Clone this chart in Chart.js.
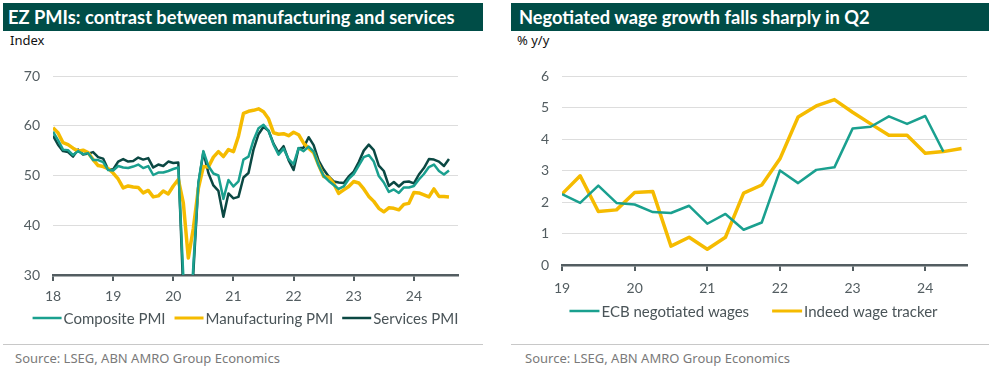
<!DOCTYPE html>
<html>
<head>
<meta charset="utf-8">
<script src="https://cdn.jsdelivr.net/npm/chart.js@4.4.1/dist/chart.umd.min.js"></script>
<style>
  body { margin: 0; width: 998px; height: 368px; background: #fff; position: relative; overflow: hidden; }
  .title-bar { position: absolute; top: 3px; height: 28px; background: #004d47; color: #fff;
    font: bold 18.3px Lato, sans-serif; line-height: 29px; box-sizing: border-box; white-space: nowrap; }
  .unit { position: absolute; top: 31px; font: 13px "Noto Sans", sans-serif; color: #111; }
  .rule { position: absolute; top: 344px; height: 1px; background: #c8c8c8; }
  .source { position: absolute; top: 349px; font: 13px "Noto Sans", sans-serif; color: #7a7a7a; }
  canvas { position: absolute; top: 50px; }
</style>
</head>
<body>
<div class="title-bar" style="left:3px;width:480px;padding-left:5px">EZ PMIs: contrast between manufacturing and services</div>
<div class="unit" style="left:10px">Index</div>
<canvas id="pmi-chart" width="490" height="290" style="left:0"></canvas>
<div class="rule" style="left:3px;width:480px"></div>
<div class="source" style="left:15px">Source: LSEG, ABN AMRO Group Economics</div>

<div class="title-bar" style="left:511px;width:478px;padding-left:8px">Negotiated wage growth falls sharply in Q2</div>
<div class="unit" style="left:517px">% y/y</div>
<canvas id="wage-chart" width="490" height="290" style="left:500px"></canvas>
<div class="rule" style="left:511px;width:478px"></div>
<div class="source" style="left:525px">Source: LSEG, ABN AMRO Group Economics</div>

<script>
// --- PMI data: monthly, Jan 2018 to Aug 2024 ---
const pmiYearLabels = ["18", "19", "20", "21", "22", "23", "24"];
const compositePMI = [
  58.8, 57.1, 55.2, 55.1, 54.1, 54.9, 54.3, 54.5, 53.1, 53.1, 52.7, 51.1,
  51.0, 51.9, 51.6, 51.5, 51.8, 52.2, 51.5, 51.9, 50.1, 50.6, 50.6, 50.9,
  51.3, 51.6, 29.7, 13.6, 31.9, 48.5, 54.9, 51.9, 50.4, 50.0, 45.3, 49.1,
  47.8, 48.8, 53.2, 53.8, 57.1, 59.5, 60.2, 59.0, 56.2, 54.2, 55.4, 53.3,
  52.3, 55.5, 54.9, 55.8, 54.8, 52.0, 49.9, 48.9, 48.1, 47.3, 47.8, 49.3,
  50.3, 52.0, 53.7, 54.1, 52.8, 49.9, 48.6, 46.7, 47.2, 46.5, 47.6, 47.6,
  47.9, 49.2, 50.3, 51.7, 52.2, 50.9, 50.2, 51.0
];
const manufacturingPMI = [
  59.6, 58.6, 56.6, 56.2, 55.5, 54.9, 55.1, 54.6, 53.2, 52.0, 51.8, 51.4,
  50.5, 49.3, 47.5, 47.9, 47.7, 47.6, 46.5, 47.0, 45.7, 45.9, 46.9, 46.3,
  47.9, 49.2, 44.5, 33.4, 39.4, 47.4, 51.8, 51.7, 53.7, 54.8, 53.8, 55.2,
  54.8, 57.9, 62.5, 62.9, 63.1, 63.4, 62.8, 61.4, 58.6, 58.3, 58.4, 58.0,
  58.7, 58.2, 56.5, 55.5, 54.6, 52.1, 49.8, 49.6, 48.4, 46.4, 47.1, 47.8,
  48.8, 48.5, 47.3, 45.8, 44.8, 43.4, 42.7, 43.5, 43.4, 43.1, 44.2, 44.4,
  46.6, 46.5, 46.1, 45.7, 47.3, 45.8, 45.8, 45.7
];
const servicesPMI = [
  58.0, 56.2, 54.9, 54.7, 53.8, 55.2, 54.2, 54.4, 54.7, 53.7, 53.4, 51.2,
  51.2, 52.8, 53.3, 52.8, 52.9, 53.6, 53.2, 53.5, 51.6, 52.2, 51.9, 52.8,
  52.5, 52.6, 26.4, 12.0, 30.5, 48.3, 54.7, 50.5, 48.0, 46.9, 41.7, 46.4,
  45.4, 45.7, 49.6, 50.5, 55.2, 58.3, 59.8, 59.0, 56.4, 54.6, 55.9, 53.1,
  51.1, 55.5, 55.6, 57.7, 56.1, 53.0, 51.2, 49.8, 48.8, 48.6, 48.5, 49.8,
  50.8, 52.7, 55.0, 56.2, 55.1, 52.0, 50.9, 47.9, 48.7, 47.8, 48.7, 48.8,
  48.4, 50.2, 51.5, 53.3, 53.2, 52.8, 51.9, 53.3
];

// --- Wage data: quarterly, 2019 Q1 onwards ---
const wageYearLabels = ["19", "20", "21", "22", "23", "24"];
const ecbNegotiatedWages = [
  2.25, 1.97, 2.52, 1.97, 1.92, 1.68, 1.65, 1.88, 1.31, 1.62, 1.12,
  1.35, 3.00, 2.60, 3.02, 3.10, 4.33, 4.39, 4.72, 4.48, 4.73, 3.60
];
const indeedWageTracker = [
  2.25, 2.83, 1.70, 1.75, 2.30, 2.33, 0.60, 0.88, 0.50, 0.88, 2.28, 2.54,
  3.37, 4.70, 5.05, 5.25, 4.85, 4.48, 4.12, 4.12, 3.55, 3.60, 3.70
];

const TEAL = "#1aa08f";
const YELLOW = "#f5bb00";
const DARK = "#0b4843";
const AXIS = "#535d61";
const TICK_FONT = { family: "Lato", size: 14 };

// x = period index (months or quarters), y = value
function toPoints(values) {
  return values.map((v, i) => ({ x: i, y: v }));
}

function makeLine(label, values, color, width) {
  return {
    label, data: toPoints(values),
    borderColor: color, backgroundColor: color, borderWidth: width,
    pointRadius: 0, tension: 0, borderJoinStyle: "round", borderCapStyle: "butt"
  };
}

// legend with short line samples sitting tight against their text
const lineLegend = {
  id: "lineLegend",
  afterDraw(chart, args, opts) {
    const ctx = chart.ctx;
    ctx.save();
    ctx.font = "15px Lato";
    ctx.textBaseline = "middle";
    const items = chart.data.datasets.map(ds => ({ ds, w: ctx.measureText(ds.label).width }));
    const total = items.reduce((s, it) => s + opts.sample + opts.textGap + it.w, 0) + opts.itemGap * (items.length - 1);
    let x = opts.centerX - total / 2;
    items.forEach(({ ds, w }) => {
      ctx.strokeStyle = ds.borderColor;
      ctx.lineWidth = Math.min(ds.borderWidth, 3);
      ctx.beginPath();
      ctx.moveTo(x, opts.y);
      ctx.lineTo(x + opts.sample, opts.y);
      ctx.stroke();
      x += opts.sample + opts.textGap;
      ctx.fillStyle = "#4a5458";
      ctx.fillText(ds.label, x, opts.y + 1);
      x += w + opts.itemGap;
    });
    ctx.restore();
  }
};

function xScale(max, step, labels, height, pad) {
  return {
    type: "linear", min: 0, max: max,
    afterBuildTicks: (axis) => { axis.ticks = labels.map((_, i) => ({ value: i * step })); },
    afterFit: (axis) => { axis.height = height; },
    ticks: { callback: (value) => labels[Math.round(value / step)], color: AXIS, font: TICK_FONT, padding: pad, maxRotation: 0 },
    grid: { drawOnChartArea: false, drawTicks: true, tickLength: 6, color: AXIS, lineWidth: 2 },
    border: { display: true, color: AXIS, width: 2.5 }
  };
}

function yScale(min, max, step, width) {
  return {
    min, max,
    afterFit: (axis) => { axis.width = width; },
    ticks: { stepSize: step, color: AXIS, font: TICK_FONT, padding: 13 },
    grid: { color: "#dddddd", drawTicks: false, lineWidth: 1 },
    border: { display: false }
  };
}

new Chart(document.getElementById("pmi-chart"), {
  type: "line",
  data: {
    datasets: [
      makeLine("Composite PMI", compositePMI, TEAL, 2.5),
      makeLine("Manufacturing PMI", manufacturingPMI, YELLOW, 3.5),
      makeLine("Services PMI", servicesPMI, DARK, 2.5)
    ]
  },
  plugins: [lineLegend],
  options: {
    responsive: false, animation: false,
    layout: { padding: { left: 22, right: 32, top: 26, bottom: 35 } },
    plugins: {
      legend: { display: false }, tooltip: { enabled: false },
      lineLegend: { centerX: 245.5, y: 268, sample: 29, textGap: 2, itemGap: 9 }
    },
    scales: {
      x: xScale(80.8, 12, pmiYearLabels, 30, 7),
      y: yScale(30, 70, 10, 31)
    }
  }
});

new Chart(document.getElementById("wage-chart"), {
  type: "line",
  data: {
    datasets: [
      makeLine("ECB negotiated wages", ecbNegotiatedWages, TEAL, 2.5),
      makeLine("Indeed wage tracker", indeedWageTracker, YELLOW, 3.5)
    ]
  },
  plugins: [lineLegend],
  options: {
    responsive: false, animation: false,
    layout: { padding: { left: 41, right: 23, top: 26, bottom: 45 } },
    plugins: {
      legend: { display: false }, tooltip: { enabled: false },
      lineLegend: { centerX: 253.5, y: 261, sample: 30, textGap: 2, itemGap: 23 }
    },
    scales: {
      x: xScale(22.3, 4, wageYearLabels, 30, 9),
      y: yScale(0, 6, 1, 21)
    }
  }
});
</script>
</body>
</html>
